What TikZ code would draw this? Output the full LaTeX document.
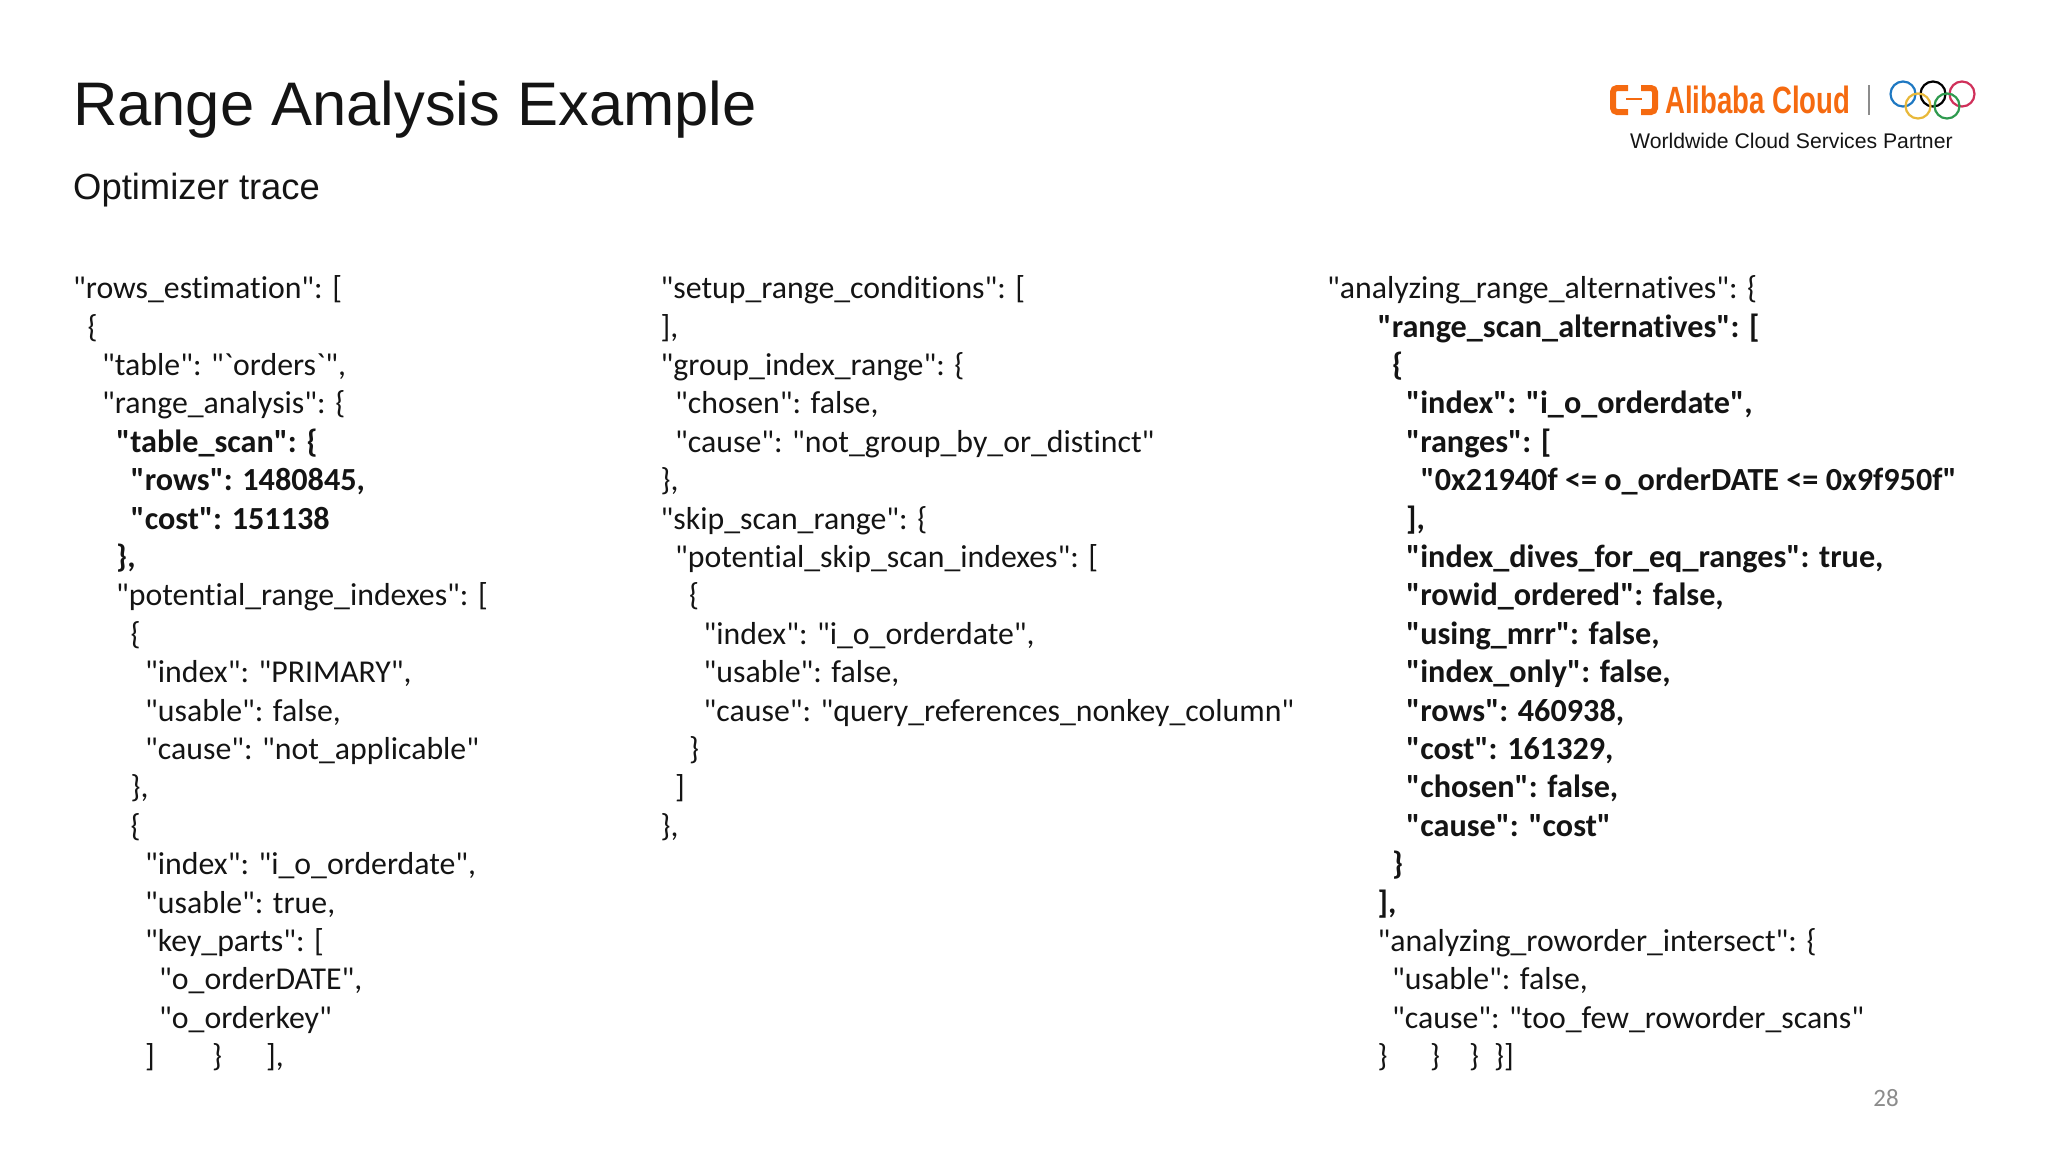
\documentclass[tikz,border=0pt]{standalone}
\usepackage{fontspec}
\setmainfont{Liberation Sans}
\newfontfamily\codefont[Ligatures=NoCommon]{Carlito}
\newfontfamily\logofont[FakeStretch=0.725]{Liberation Sans}
\definecolor{inkblack}{HTML}{141414}
\definecolor{logoorange}{HTML}{F56A10}
\definecolor{pagegray}{HTML}{8C8C8C}
\definecolor{ringblue}{HTML}{1E78C2}
\definecolor{ringred}{HTML}{D0305A}
\definecolor{ringyellow}{HTML}{E8B83A}
\definecolor{ringgreen}{HTML}{2E9A4E}
\tikzset{
  codeline/.style={anchor=base west,inner sep=0pt,text=inkblack,font=\codefont\fontsize{31.8}{38}\selectfont},
  boldline/.style={codeline,font=\codefont\bfseries\fontsize{32.2}{38}\selectfont},
  ring/.style={draw=#1,line width=2.2pt,circle,minimum size=25pt,inner sep=0pt},
  bracket/.style={draw=logoorange,line width=6pt,rounded corners=4pt}
}
\begin{document}
\begin{tikzpicture}[x=1pt,y=-1pt]
  \useasboundingbox (0,0) rectangle (2048,1152);
  \node[anchor=base west,inner sep=0pt,text=inkblack,font=\fontsize{61.5}{68}\selectfont] (title) at (73,125) {Range Analysis Example};
  \node[anchor=base west,inner sep=0pt,text=inkblack,font=\fontsize{36.4}{42}\selectfont] (subtitle) at (73,199) {Optimizer trace};
  \begin{scope}[yshift=-0.6pt]
  % first column
  \node[codeline] (a0) at (73,298) {"rows\_estimation": [};
  \node[codeline] (a1) at (87.5,336.4) {\{};
  \node[codeline] (a2) at (102,374.8) {"table": "`orders`",};
  \node[codeline] (a3) at (102,413.2) {"range\_analysis": \{};
  \node[boldline] (a4) at (116,451.6) {"table\_scan": \{};
  \node[boldline] (a5) at (130.5,490) {"rows": 1480845,};
  \node[boldline] (a6) at (130.5,528.4) {"cost": 151138};
  \node[boldline] (a7) at (116,566.8) {\},};
  \node[codeline] (a8) at (116,605.2) {"potential\_range\_indexes": [};
  \node[codeline] (a9) at (130.5,643.6) {\{};
  \node[codeline] (a10) at (145,682) {"index": "PRIMARY",};
  \node[codeline] (a11) at (145,720.4) {"usable": false,};
  \node[codeline] (a12) at (145,758.8) {"cause": "not\_applicable"};
  \node[codeline] (a13) at (130.5,797.2) {\},};
  \node[codeline] (a14) at (130.5,835.6) {\{};
  \node[codeline] (a15) at (145,874) {"index": "i\_o\_orderdate",};
  \node[codeline] (a16) at (145,912.4) {"usable": true,};
  \node[codeline] (a17) at (145,950.8) {"key\_parts": [};
  \node[codeline] (a18) at (159,989.2) {"o\_orderDATE",};
  \node[codeline] (a19) at (159,1027.6) {"o\_orderkey"};
  \node[codeline] (a20) at (145,1066) {]};
  \node[codeline] (a21) at (212,1066) {\}};
  \node[codeline] (a22) at (266,1066) {],};
  % second column
  \node[codeline] (b0) at (660.5,298) {"setup\_range\_conditions": [};
  \node[codeline] (b1) at (660.5,336.4) {],};
  \node[codeline] (b2) at (660.5,374.8) {"group\_index\_range": \{};
  \node[codeline] (b3) at (675,413.2) {"chosen": false,};
  \node[codeline] (b4) at (675,451.6) {"cause": "not\_group\_by\_or\_distinct"};
  \node[codeline] (b5) at (660.5,490) {\},};
  \node[codeline] (b6) at (660.5,528.4) {"skip\_scan\_range": \{};
  \node[codeline] (b7) at (675,566.8) {"potential\_skip\_scan\_indexes": [};
  \node[codeline] (b8) at (689,605.2) {\{};
  \node[codeline] (b9) at (703.5,643.6) {"index": "i\_o\_orderdate",};
  \node[codeline] (b10) at (703.5,682) {"usable": false,};
  \node[codeline] (b11) at (703.5,720.4) {"cause": "query\_references\_nonkey\_column"};
  \node[codeline] (b12) at (689,758.8) {\}};
  \node[codeline] (b13) at (675,797.2) {]};
  \node[codeline] (b14) at (660.5,835.6) {\},};
  % third column
  \node[codeline] (c0) at (1327,298) {"analyzing\_range\_alternatives": \{};
  \node[boldline] (c1) at (1377.5,336.4) {"range\_scan\_alternatives": [};
  \node[boldline] (c2) at (1392,374.8) {\{};
  \node[boldline] (c3) at (1406,413.2) {"index": "i\_o\_orderdate",};
  \node[boldline] (c4) at (1406,451.6) {"ranges": [};
  \node[boldline] (c5) at (1420.5,490) {"0x21940f <= o\_orderDATE <= 0x9f950f"};
  \node[boldline] (c6) at (1406,528.4) {],};
  \node[boldline] (c7) at (1406,566.8) {"index\_dives\_for\_eq\_ranges": true,};
  \node[boldline] (c8) at (1406,605.2) {"rowid\_ordered": false,};
  \node[boldline] (c9) at (1406,643.6) {"using\_mrr": false,};
  \node[boldline] (c10) at (1406,682) {"index\_only": false,};
  \node[boldline] (c11) at (1406,720.4) {"rows": 460938,};
  \node[boldline] (c12) at (1406,758.8) {"cost": 161329,};
  \node[boldline] (c13) at (1406,797.2) {"chosen": false,};
  \node[boldline] (c14) at (1406,835.6) {"cause": "cost"};
  \node[boldline] (c15) at (1392,874) {\}};
  \node[boldline] (c16) at (1377.5,912.4) {],};
  \node[codeline] (c17) at (1377.5,950.8) {"analyzing\_roworder\_intersect": \{};
  \node[codeline] (c18) at (1392,989.2) {"usable": false,};
  \node[codeline] (c19) at (1392,1027.6) {"cause": "too\_few\_roworder\_scans"};
  \node[codeline] (c20) at (1377.5,1066) {\}};
  \node[codeline] (c21) at (1430,1066) {\}};
  \node[codeline] (c22) at (1469,1066) {\}};
  \node[codeline] (c23) at (1494,1066) {\}]};
  \end{scope}
  % logo
  \draw[bracket] (1628,88) -- (1613,88) -- (1613,112) -- (1628,112);
  \draw[bracket] (1641,88) -- (1655,88) -- (1655,112) -- (1641,112);
  \draw[logoorange,line width=2.6pt] (1626,99) -- (1642,99);
  \node[anchor=base west,inner sep=0pt,text=logoorange,font=\logofont\bfseries\fontsize{38}{40}\selectfont] (cloud) at (1665,113) {Alibaba Cloud};
  \draw[pagegray,line width=1.4pt] (1869,85) -- (1869,115);
  \node[ring=ringblue] (blue) at (1903,94) {};
  \node[ring=black] (black) at (1933,94) {};
  \node[ring=ringred] (red) at (1962,94) {};
  \node[ring=ringyellow] (yellow) at (1918,106) {};
  \node[ring=ringgreen] (green) at (1947,106) {};
  \node[anchor=base west,inner sep=0pt,text=inkblack,font=\fontsize{21.2}{24}\selectfont] (partner) at (1630,148) {Worldwide Cloud Services Partner};
  \node[inner sep=0pt,text=pagegray,font=\codefont\fontsize{25}{28}\selectfont] (page) at (1886,1098) {28};
\end{tikzpicture}
\end{document}
